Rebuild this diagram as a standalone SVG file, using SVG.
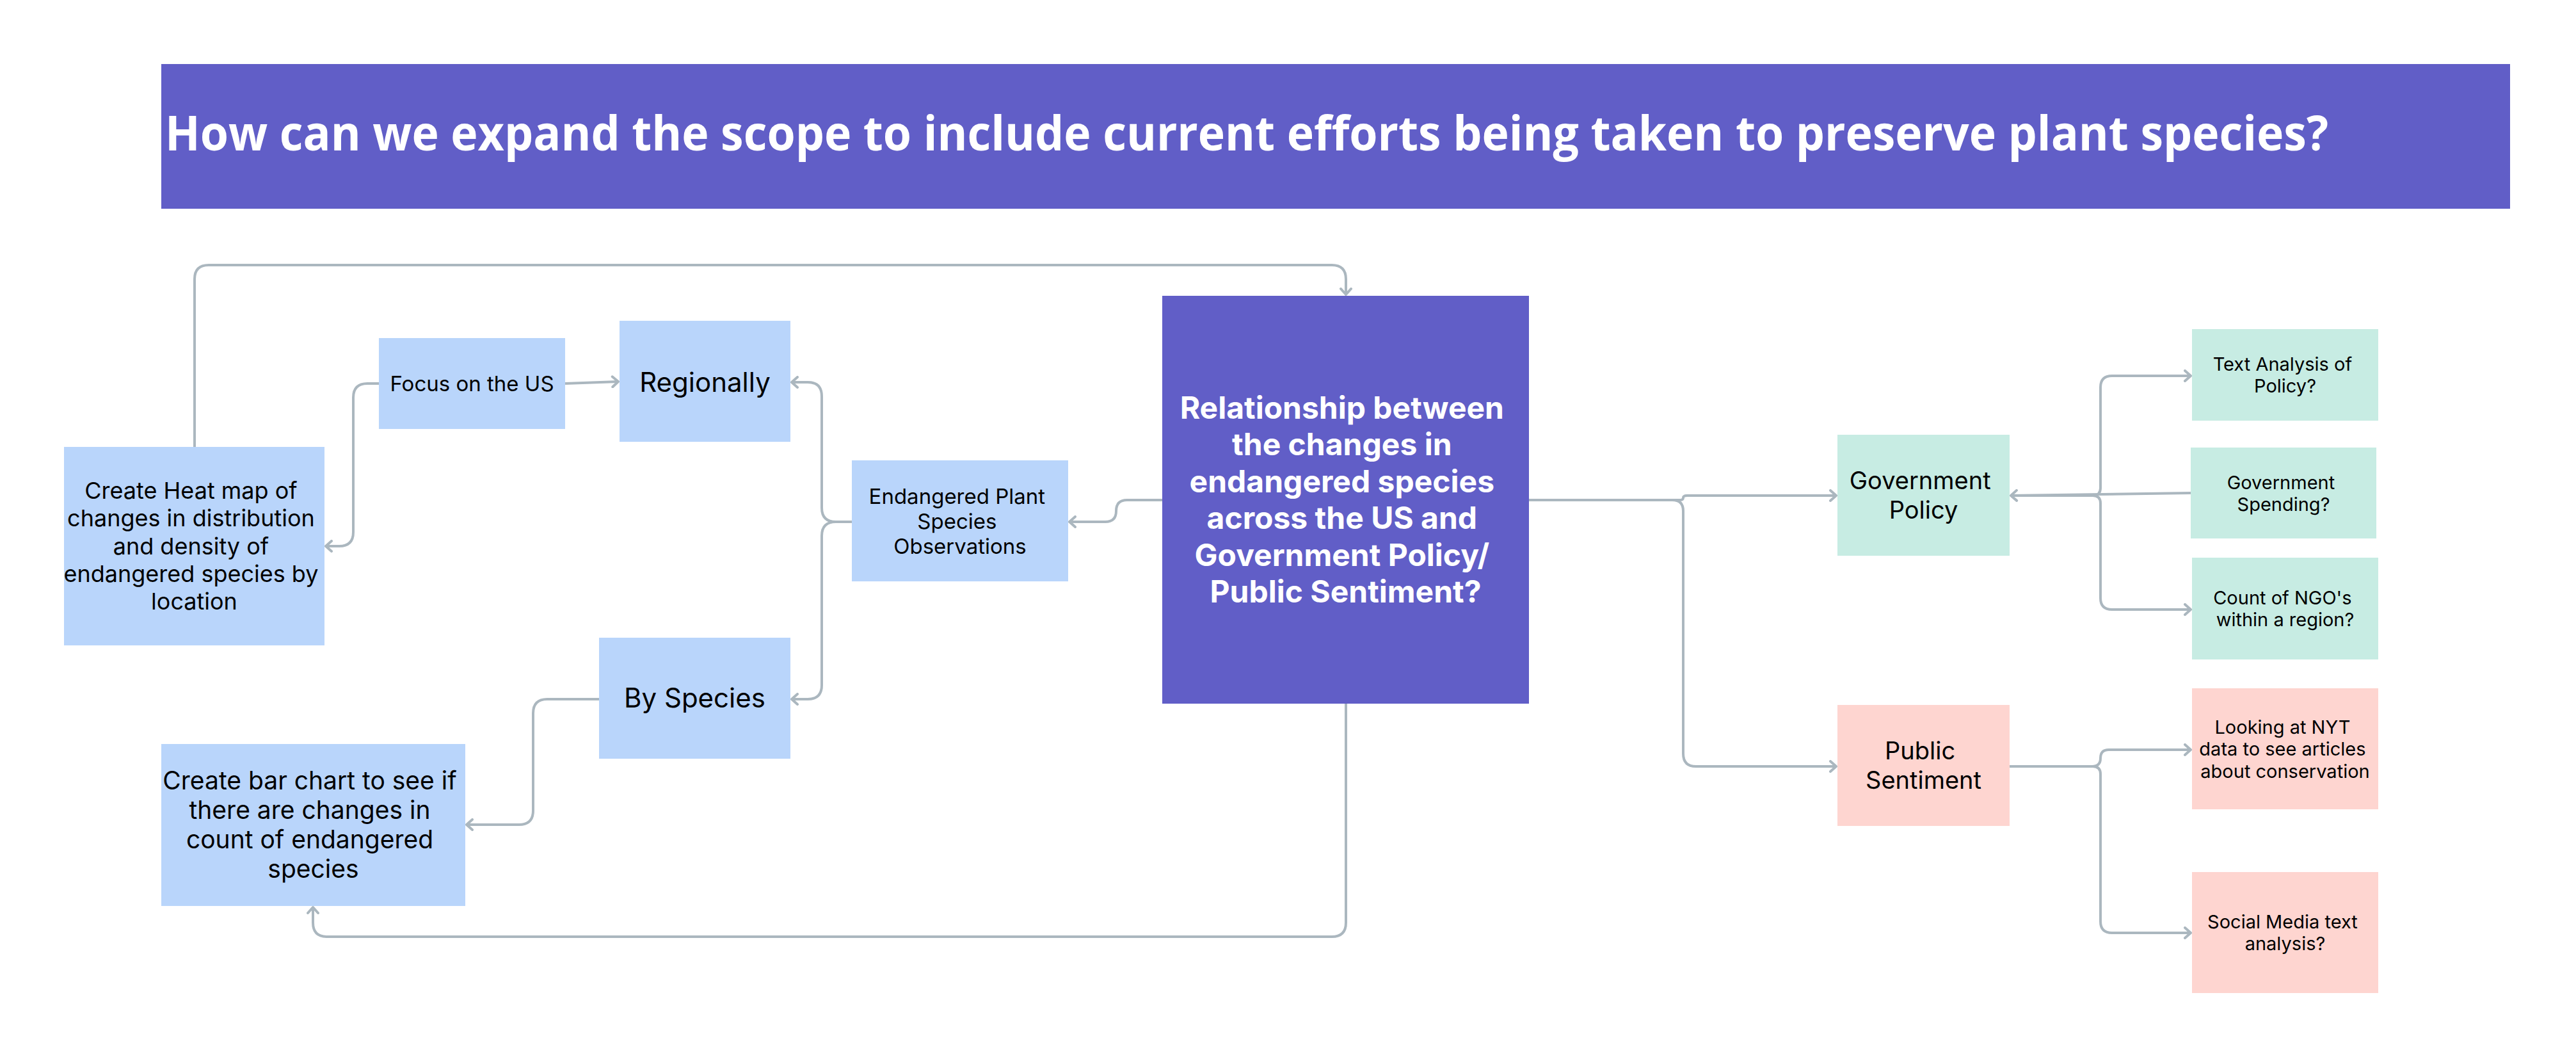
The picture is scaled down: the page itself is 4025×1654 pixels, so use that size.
<svg xmlns="http://www.w3.org/2000/svg" width="4025" height="1654" viewBox="0 0 4025 1654">
<style>
.bg{fill:#ffffff}
.blue{fill:#B9D5FB}
.purple{fill:#615EC7}
.green{fill:#C7ECE3}
.pink{fill:#FED5D0}
.t{font-family:Inter,"Liberation Sans",sans-serif;fill:#000;text-anchor:middle}
.tw{font-family:Inter,"Liberation Sans",sans-serif;fill:#fff;text-anchor:middle;font-weight:700}
.title{font-family:"Open Sans","Noto Sans",sans-serif;font-weight:700;fill:#fff;font-size:76px}
.c{fill:none;stroke:#ABB7BF;stroke-width:4;stroke-linejoin:round}
</style>
<defs>
<marker id="arr" viewBox="0 0 20 20" refX="14" refY="10" markerWidth="20" markerHeight="20" markerUnits="userSpaceOnUse" orient="auto">
<path d="M5 2 L14 10 L5 18" fill="none" stroke="#ABB7BF" stroke-width="4" stroke-linecap="round" stroke-linejoin="round"/>
</marker>
</defs>
<rect class="bg" x="0" y="0" width="4025" height="1654"/>

<g id="title">
<rect class="purple" x="252" y="100" width="3670" height="226"/>
<text class="title" x="258" y="235" textLength="3380" lengthAdjust="spacingAndGlyphs">How can we expand the scope to include current efforts being taken to preserve plant species?</text>
</g>

<g id="connectors">
<path class="c" d="M304 698 V436 Q304 414 326 414 H2081 Q2103 414 2103 436 V460" marker-end="url(#arr)"/>
<path class="c" d="M883 599 L966 596" marker-end="url(#arr)"/>
<path class="c" d="M592 599 H574 Q552 599 552 621 V831 Q552 853 530 853 H509" marker-end="url(#arr)"/>
<path class="c" d="M1331 815 H1306 Q1284 815 1284 793 V619 Q1284 597 1262 597 H1237" marker-end="url(#arr)"/>
<path class="c" d="M1331 815 H1306 Q1284 815 1284 837 V1070 Q1284 1092 1262 1092 H1237" marker-end="url(#arr)"/>
<path class="c" d="M1816 781 H1761 Q1744 781 1744 798 Q1744 815 1727 815 H1671" marker-end="url(#arr)"/>
<path class="c" d="M936 1092 H855 Q833 1092 833 1114 V1266 Q833 1288 811 1288 H729" marker-end="url(#arr)"/>
<path class="c" d="M2103 1099 V1441 Q2103 1463 2081 1463 H511 Q489 1463 489 1441 V1417" marker-end="url(#arr)"/>
<path class="c" d="M2389 781 H2624 Q2630 781 2630 777.5 Q2630 774 2636 774 H2869" marker-end="url(#arr)"/>
<path class="c" d="M2389 781 H2613 Q2630 781 2630 798 V1177 Q2630 1197 2650 1197 H2869" marker-end="url(#arr)"/>
<path class="c" d="M3423 770 L3142 774" marker-end="url(#arr)"/>
<path class="c" d="M3142 774 H3270 Q3282 774 3282 762 V605 Q3282 587 3300 587 H3423" marker-end="url(#arr)"/>
<path class="c" d="M3142 774 H3270 Q3282 774 3282 786 V934 Q3282 952 3300 952 H3423" marker-end="url(#arr)"/>
<path class="c" d="M3140 1197 H3269 Q3282 1197 3282 1184 Q3282 1171 3295 1171 H3423" marker-end="url(#arr)"/>
<path class="c" d="M3140 1197 H3270 Q3282 1197 3282 1209 V1439 Q3282 1457 3300 1457 H3423" marker-end="url(#arr)"/>
</g>

<g id="heatmap">
<rect class="blue" x="100" y="698" width="407" height="310"/>
<text class="t" font-size="36">
<tspan x="303.5" y="779">Create Heat map of</tspan>
<tspan x="303.5" y="822">changes in distribution</tspan>
<tspan x="303.5" y="865.5">and density of</tspan>
<tspan x="303.5" y="909">endangered species by</tspan>
<tspan x="303.5" y="952">location</tspan>
</text>
</g>

<g id="focus-us">
<rect class="blue" x="592" y="528" width="291" height="142"/>
<text class="t" font-size="33" x="737.5" y="610.5">Focus on the US</text>
</g>

<g id="regionally">
<rect class="blue" x="968" y="501" width="267" height="189"/>
<text class="t" font-size="42" x="1101.5" y="611.5">Regionally</text>
</g>

<g id="by-species">
<rect class="blue" x="936" y="996" width="299" height="189"/>
<text class="t" font-size="42" x="1085.5" y="1105">By Species</text>
</g>

<g id="bar-chart">
<rect class="blue" x="252" y="1162" width="475" height="253"/>
<text class="t" font-size="39">
<tspan x="489.5" y="1233">Create bar chart to see if</tspan>
<tspan x="489.5" y="1279">there are changes in</tspan>
<tspan x="489.5" y="1325">count of endangered</tspan>
<tspan x="489.5" y="1371">species</tspan>
</text>
</g>

<g id="observations">
<rect class="blue" x="1331" y="719" width="338" height="189"/>
<text class="t" font-size="33">
<tspan x="1500" y="786.5">Endangered Plant</tspan>
<tspan x="1500" y="825.5">Species</tspan>
<tspan x="1500" y="864.5">Observations</tspan>
</text>
</g>

<g id="central">
<rect class="purple" x="1816" y="462" width="573" height="637"/>
<text class="tw" font-size="48">
<tspan x="2102.5" y="653.5">Relationship between</tspan>
<tspan x="2102.5" y="711">the changes in</tspan>
<tspan x="2102.5" y="768.5">endangered species</tspan>
<tspan x="2102.5" y="826">across the US and</tspan>
<tspan x="2102.5" y="883.5">Government Policy/</tspan>
<tspan x="2102.5" y="941">Public Sentiment?</tspan>
</text>
</g>

<g id="gov-policy">
<rect class="green" x="2871" y="679" width="269" height="189"/>
<text class="t" font-size="38">
<tspan x="3005.5" y="764">Government</tspan>
<tspan x="3005.5" y="809.5">Policy</tspan>
</text>
</g>

<g id="public-sentiment">
<rect class="pink" x="2871" y="1101" width="269" height="189"/>
<text class="t" font-size="38">
<tspan x="3005.5" y="1186">Public</tspan>
<tspan x="3005.5" y="1231.5">Sentiment</tspan>
</text>
</g>

<g id="text-analysis">
<rect class="green" x="3425" y="514" width="291" height="143"/>
<text class="t" font-size="29">
<tspan x="3570.5" y="578.5">Text Analysis of</tspan>
<tspan x="3570.5" y="613">Policy?</tspan>
</text>
</g>

<g id="gov-spending">
<rect class="green" x="3423" y="699" width="290" height="142"/>
<text class="t" font-size="29">
<tspan x="3568" y="763.5">Government</tspan>
<tspan x="3568" y="798">Spending?</tspan>
</text>
</g>

<g id="ngo-count">
<rect class="green" x="3425" y="871" width="291" height="159"/>
<text class="t" font-size="29">
<tspan x="3570.5" y="943.5">Count of NGO's</tspan>
<tspan x="3570.5" y="978">within a region?</tspan>
</text>
</g>

<g id="nyt">
<rect class="pink" x="3425" y="1075" width="291" height="189"/>
<text class="t" font-size="29">
<tspan x="3570.5" y="1145.5">Looking at NYT</tspan>
<tspan x="3570.5" y="1180">data to see articles</tspan>
<tspan x="3570.5" y="1214.5">about conservation</tspan>
</text>
</g>

<g id="social-media">
<rect class="pink" x="3425" y="1362" width="291" height="189"/>
<text class="t" font-size="29">
<tspan x="3570.5" y="1449.5">Social Media text</tspan>
<tspan x="3570.5" y="1484">analysis?</tspan>
</text>
</g>
</svg>
